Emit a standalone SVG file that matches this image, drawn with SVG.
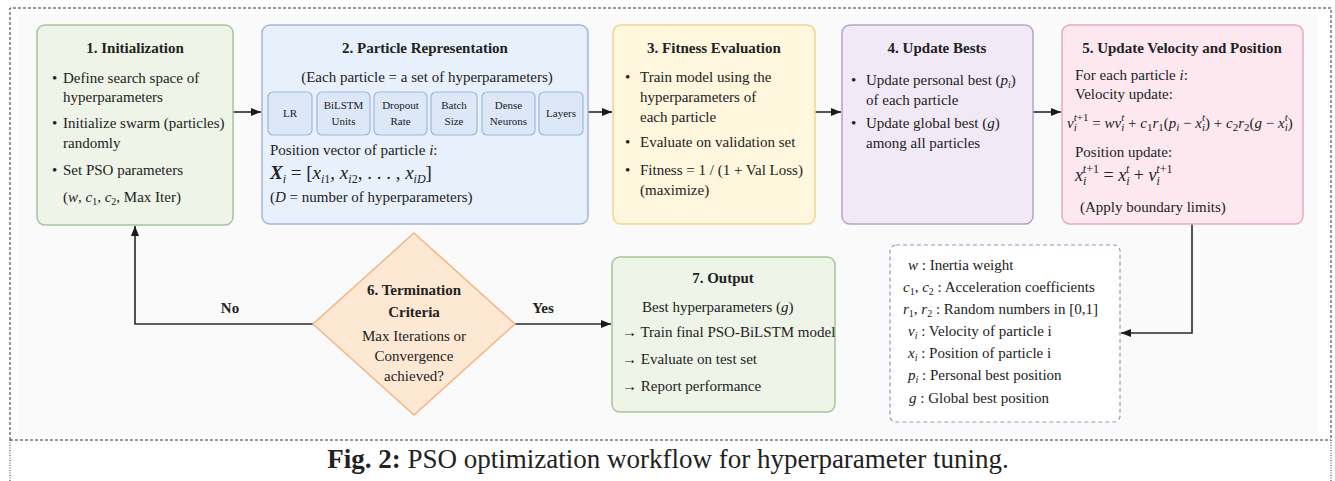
<svg xmlns="http://www.w3.org/2000/svg" width="1335" height="481" viewBox="0 0 1335 481">
<style>
text{font-family:"Liberation Serif","Times New Roman",serif;fill:#222;}
.ti{font-weight:bold;font-size:15px;}
.b{font-size:15px;}
.s{font-size:11px;}
.m{font-style:italic;}
.sb{font-size:10px;}
.sc{font-size:11px;}
.con{fill:none;stroke:#2a2a2a;stroke-width:1.6;}
</style>
<defs>
<marker id="ah" markerWidth="10" markerHeight="8" refX="10" refY="4" orient="auto" markerUnits="userSpaceOnUse"><path d="M0,0 L10,4 L0,8 z" fill="#1a1a1a"/></marker>
</defs>
<rect x="0" y="0" width="1335" height="481" fill="#fff"/>
<rect x="18" y="14" width="1300" height="422" fill="#fafafa"/>
<g id="frame" fill="none" stroke="#333" stroke-width="1">
<path d="M10,440 V8 H1331 V440" stroke-dasharray="3,2"/>
<path d="M10,440 H1331" stroke-dasharray="3,2"/>
<path d="M10,440 V481 M1331,440 V481" stroke-dasharray="1,1.5"/>
</g>

<g id="connectors">
<path class="con" d="M233,112 H261" marker-end="url(#ah)"/>
<path class="con" d="M588,112 H612" marker-end="url(#ah)"/>
<path class="con" d="M815,112 H841" marker-end="url(#ah)"/>
<path class="con" d="M1033,112 H1061" marker-end="url(#ah)"/>
<path class="con" d="M1192,224 V333 H1121" marker-end="url(#ah)"/>
<path class="con" d="M515,324 H611" marker-end="url(#ah)"/>
<path class="con" d="M313,324 H135 V226" marker-end="url(#ah)"/>
<text class="ti" x="230" y="313" text-anchor="middle">No</text>
<text class="ti" x="543" y="313" text-anchor="middle">Yes</text>
</g>

<g id="n1">
<rect x="37" y="25" width="196" height="200" rx="8" fill="#eef4e8" stroke="#a7c49a" stroke-width="1.5"/>
<text class="ti" x="135" y="53" text-anchor="middle">1. Initialization</text>
<text class="b" x="52" y="83">•</text><text class="b" x="63" y="83">Define search space of</text>
<text class="b" x="63" y="102">hyperparameters</text>
<text class="b" x="52" y="128">•</text><text class="b" x="63" y="128">Initialize swarm (particles)</text>
<text class="b" x="63" y="148">randomly</text>
<text class="b" x="52" y="175">•</text><text class="b" x="63" y="175">Set PSO parameters</text>
<text class="b" x="63" y="202">(<tspan class="m">w</tspan>, <tspan class="m">c</tspan><tspan class="sb" dy="3">1</tspan><tspan dy="-3">, </tspan><tspan class="m">c</tspan><tspan class="sb" dy="3">2</tspan><tspan dy="-3">, Max Iter)</tspan></text>
</g>

<g id="n2">
<rect x="262" y="25" width="326" height="199" rx="8" fill="#e8f0fb" stroke="#9fb7dc" stroke-width="1.5"/>
<text class="ti" x="425" y="53" text-anchor="middle">2. Particle Representation</text>
<text class="b" x="427" y="82" text-anchor="middle">(Each particle = a set of hyperparameters)</text>
<g fill="#dce7f7" stroke="#9fb7dc" stroke-width="1.2">
<rect x="268" y="92" width="44" height="43" rx="5"/>
<rect x="317" y="92" width="53" height="43" rx="5"/>
<rect x="374" y="92" width="53" height="43" rx="5"/>
<rect x="431" y="92" width="46" height="43" rx="5"/>
<rect x="482" y="92" width="53" height="43" rx="5"/>
<rect x="539" y="92" width="44" height="43" rx="5"/>
</g>
<text class="s" x="290" y="117" text-anchor="middle">LR</text>
<text class="s" x="343.5" y="109" text-anchor="middle">BiLSTM</text>
<text class="s" x="343.5" y="125" text-anchor="middle">Units</text>
<text class="s" x="400.5" y="109" text-anchor="middle">Dropout</text>
<text class="s" x="400.5" y="125" text-anchor="middle">Rate</text>
<text class="s" x="454" y="109" text-anchor="middle">Batch</text>
<text class="s" x="454" y="125" text-anchor="middle">Size</text>
<text class="s" x="508.5" y="109" text-anchor="middle">Dense</text>
<text class="s" x="508.5" y="125" text-anchor="middle">Neurons</text>
<text class="s" x="561" y="117" text-anchor="middle">Layers</text>
<text class="b" x="270" y="155">Position vector of particle <tspan class="m">i</tspan>:</text>
<text x="270" y="179" font-size="19"><tspan class="m" font-weight="bold">X</tspan><tspan font-size="12" dy="4" class="m">i</tspan><tspan dy="-4"> = [</tspan><tspan class="m">x</tspan><tspan font-size="12" dy="4" class="m">i</tspan><tspan font-size="12">1</tspan><tspan dy="-4">, </tspan><tspan class="m">x</tspan><tspan font-size="12" dy="4" class="m">i</tspan><tspan font-size="12">2</tspan><tspan dy="-4">, . . . , </tspan><tspan class="m">x</tspan><tspan font-size="12" dy="4" class="m">iD</tspan><tspan dy="-4">]</tspan></text>
<text class="b" x="270" y="202">(<tspan class="m">D</tspan> = number of hyperparameters)</text>
</g>

<g id="n3">
<rect x="613" y="25" width="202" height="199" rx="8" fill="#fef6dd" stroke="#f1d58c" stroke-width="1.5"/>
<text class="ti" x="714" y="53" text-anchor="middle">3. Fitness Evaluation</text>
<text class="b" x="625" y="82">•</text><text class="b" x="640" y="82">Train model using the</text>
<text class="b" x="640" y="102">hyperparameters of</text>
<text class="b" x="640" y="122">each particle</text>
<text class="b" x="625" y="147">•</text><text class="b" x="640" y="147">Evaluate on validation set</text>
<text class="b" x="625" y="175">•</text><text class="b" x="640" y="175">Fitness = 1 / (1 + Val Loss)</text>
<text class="b" x="640" y="195">(maximize)</text>
</g>

<g id="n4">
<rect x="842" y="25" width="191" height="199" rx="8" fill="#f2e9f6" stroke="#b7a2c6" stroke-width="1.5"/>
<text class="ti" x="937" y="53" text-anchor="middle">4. Update Bests</text>
<text class="b" x="851" y="85">•</text><text class="b" x="866" y="85">Update personal best (<tspan class="m">p</tspan><tspan class="sb m" dy="3">i</tspan><tspan dy="-3">)</tspan></text>
<text class="b" x="866" y="105">of each particle</text>
<text class="b" x="851" y="128">•</text><text class="b" x="866" y="128">Update global best (<tspan class="m">g</tspan>)</text>
<text class="b" x="866" y="148">among all particles</text>
</g>

<g id="n5">
<rect x="1062" y="25" width="241" height="199" rx="8" fill="#fde8f0" stroke="#eaa7c1" stroke-width="1.5"/>
<text class="ti" x="1182" y="53" text-anchor="middle">5. Update Velocity and Position</text>
<text class="b" x="1075" y="80" font-size="14">For each particle <tspan class="m">i</tspan>:</text>
<text class="b" x="1075" y="99" font-size="14">Velocity update:</text>
<text x="1067" y="128" font-size="15"><tspan class="m">v</tspan><tspan class="sc m" dy="3">i</tspan><tspan class="sc m" dx="-3" dy="-10">t</tspan><tspan class="sc">+1</tspan><tspan dy="7"> = </tspan><tspan class="m">wv</tspan><tspan class="sc m" dy="3">i</tspan><tspan class="sc m" dx="-3" dy="-10">t</tspan><tspan dy="7"> + </tspan><tspan class="m">c</tspan><tspan class="sc" dy="3">1</tspan><tspan class="m" dy="-3">r</tspan><tspan class="sc" dy="3">1</tspan><tspan dy="-3">(</tspan><tspan class="m">p</tspan><tspan class="sc m" dy="3">i</tspan><tspan dy="-3"> − </tspan><tspan class="m">x</tspan><tspan class="sc m" dy="3">i</tspan><tspan class="sc m" dx="-3" dy="-10">t</tspan><tspan dy="7">) + </tspan><tspan class="m">c</tspan><tspan class="sc" dy="3">2</tspan><tspan class="m" dy="-3">r</tspan><tspan class="sc" dy="3">2</tspan><tspan dy="-3">(</tspan><tspan class="m">g</tspan><tspan> − </tspan><tspan class="m">x</tspan><tspan class="sc m" dy="3">i</tspan><tspan class="sc m" dx="-3" dy="-10">t</tspan><tspan dy="7">)</tspan></text>
<text class="b" x="1075" y="157" font-size="14">Position update:</text>
<text x="1075" y="181" font-size="18"><tspan class="m">x</tspan><tspan font-size="12" class="m" dy="4">i</tspan><tspan font-size="12" class="m" dx="-3.5" dy="-12">t</tspan><tspan font-size="12">+1</tspan><tspan dy="8"> = </tspan><tspan class="m">x</tspan><tspan font-size="12" class="m" dy="4">i</tspan><tspan font-size="12" class="m" dx="-3.5" dy="-12">t</tspan><tspan dy="8"> + </tspan><tspan class="m">v</tspan><tspan font-size="12" class="m" dy="4">i</tspan><tspan font-size="12" class="m" dx="-3.5" dy="-12">t</tspan><tspan font-size="12">+1</tspan></text>
<text class="b" x="1080" y="212" font-size="14">(Apply boundary limits)</text>
</g>

<g id="n6">
<polygon points="414,233 515,324 414,415 313,324" fill="#fde8d4" stroke="#f2b584" stroke-width="1.5"/>
<text class="ti" x="414" y="295" text-anchor="middle">6. Termination</text>
<text class="ti" x="414" y="317" text-anchor="middle">Criteria</text>
<text class="b" x="414" y="341" text-anchor="middle" font-size="14">Max Iterations or</text>
<text class="b" x="414" y="361" text-anchor="middle" font-size="14">Convergence</text>
<text class="b" x="414" y="381" text-anchor="middle" font-size="14">achieved?</text>
</g>

<g id="n7">
<rect x="612" y="257" width="223" height="155" rx="8" fill="#eef4e8" stroke="#a7c49a" stroke-width="1.5"/>
<text class="ti" x="723" y="283" text-anchor="middle">7. Output</text>
<text class="b" x="642" y="312">Best hyperparameters (<tspan class="m">g</tspan>)</text>
<text class="b" x="622" y="337">→ Train final PSO-BiLSTM model</text>
<text class="b" x="622" y="364">→ Evaluate on test set</text>
<text class="b" x="622" y="391">→ Report performance</text>
</g>

<g id="legend">
<rect x="890" y="245" width="230" height="177" rx="6" fill="#fff" stroke="#8a9cc4" stroke-width="1.2" stroke-dasharray="4,3"/>
<text class="b" x="908" y="270" font-size="14"><tspan class="m">w</tspan> : Inertia weight</text>
<text class="b" x="903" y="292" font-size="14"><tspan class="m">c</tspan><tspan class="sb" dy="3">1</tspan><tspan dy="-3">, </tspan><tspan class="m">c</tspan><tspan class="sb" dy="3">2</tspan><tspan dy="-3"> : Acceleration coefficients</tspan></text>
<text class="b" x="903" y="314" font-size="14"><tspan class="m">r</tspan><tspan class="sb" dy="3">1</tspan><tspan dy="-3">, </tspan><tspan class="m">r</tspan><tspan class="sb" dy="3">2</tspan><tspan dy="-3"> : Random numbers in [0,1]</tspan></text>
<text class="b" x="908" y="336" font-size="14"><tspan class="m">v</tspan><tspan class="sb m" dy="3">i</tspan><tspan dy="-3"> : Velocity of particle i</tspan></text>
<text class="b" x="908" y="358" font-size="14"><tspan class="m">x</tspan><tspan class="sb m" dy="3">i</tspan><tspan dy="-3"> : Position of particle i</tspan></text>
<text class="b" x="908" y="380" font-size="14"><tspan class="m">p</tspan><tspan class="sb m" dy="3">i</tspan><tspan dy="-3"> : Personal best position</tspan></text>
<text class="b" x="909" y="403" font-size="14"><tspan class="m">g</tspan> : Global best position</text>
</g>

<g id="caption">
<text x="668" y="468" font-size="27" text-anchor="middle"><tspan font-weight="bold">Fig. 2:</tspan> PSO optimization workflow for hyperparameter tuning.</text>
</g>
</svg>
